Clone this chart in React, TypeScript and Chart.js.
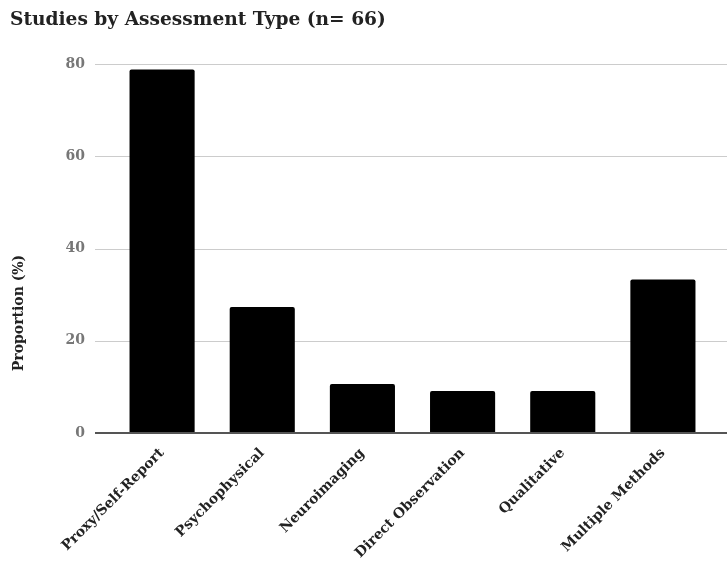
import React, { useEffect, useRef } from 'react';
import { Chart, registerables } from 'chart.js';

Chart.register(...registerables);

const categories = [
  'Proxy/Self-Report',
  'Psychophysical',
  'Neuroimaging',
  'Direct Observation',
  'Qualitative',
  'Multiple Methods',
];
const proportions = [78.8, 27.3, 10.6, 9.1, 9.1, 33.3];
const yTicks = [0, 20, 40, 60, 80];
const chartTitle = 'Studies by Assessment Type (n= 66)';
const yAxisTitle = 'Proportion (%)';

const FONT = '"DejaVu Serif", serif';

const decorPlugin = {
  id: 'decor',
  beforeDatasetsDraw(chart: any) {
    const { ctx, chartArea, scales } = chart;
    const y = scales.y;
    ctx.save();
    ctx.strokeStyle = '#cccccc';
    ctx.lineWidth = 1;
    yTicks.forEach((v) => {
      if (v === 0) return;
      const py = Math.round(y.getPixelForValue(v)) + 0.5;
      ctx.beginPath();
      ctx.moveTo(chartArea.left - 17, py);
      ctx.lineTo(chart.width, py);
      ctx.stroke();
    });
    ctx.restore();
  },
  afterDatasetsDraw(chart: any) {
    const { ctx, chartArea, scales } = chart;
    const y = scales.y;
    const py = Math.round(y.getPixelForValue(0));
    ctx.save();
    ctx.strokeStyle = '#555555';
    ctx.lineWidth = 2;
    ctx.beginPath();
    ctx.moveTo(chartArea.left - 17, py);
    ctx.lineTo(chart.width, py);
    ctx.stroke();
    ctx.restore();
  },
  afterDraw(chart: any) {
    const { ctx } = chart;
    ctx.save();
    ctx.fillStyle = '#222222';
    ctx.font = `bold 18.6px ${FONT}`;
    ctx.textAlign = 'left';
    ctx.textBaseline = 'middle';
    ctx.fillText(chartTitle, 10, 20);
    ctx.translate(19, 313);
    ctx.rotate(-Math.PI / 2);
    ctx.font = `bold 14px ${FONT}`;
    ctx.textAlign = 'center';
    ctx.fillText(yAxisTitle, 0, 0);
    ctx.restore();
  },
};

export default function App() {
  const canvasRef = useRef<HTMLCanvasElement | null>(null);

  useEffect(() => {
    if (!canvasRef.current) return;
    const chart = new Chart(canvasRef.current, {
      type: 'bar',
      data: {
        labels: categories,
        datasets: [
          {
            data: proportions,
            backgroundColor: '#000000',
            borderRadius: 2,
            borderSkipped: 'bottom',
            categoryPercentage: 1,
            barPercentage: 0.65,
          },
        ],
      },
      options: {
        animation: false,
        responsive: false,
        maintainAspectRatio: false,
        layout: { padding: { top: 64, right: 14, left: 0, bottom: 0 } },
        plugins: {
          legend: { display: false },
          title: { display: false },
          tooltip: { enabled: false },
        },
        scales: {
          x: {
            grid: { display: false },
            border: { display: false },
            ticks: {
              autoSkip: false,
              maxRotation: 45,
              minRotation: 45,
              padding: 4,
              color: '#222222',
              font: { family: FONT, size: 14, weight: 'bold' },
            },
            afterFit(scale: any) {
              scale.height = 129;
            },
          },
          y: {
            min: 0,
            max: 80,
            grid: { display: false, drawTicks: false },
            border: { display: false },
            ticks: {
              stepSize: 20,
              padding: 27,
              color: '#777777',
              font: { family: FONT, size: 14, weight: 'bold' },
            },
            afterFit(scale: any) {
              scale.width = 112;
            },
          },
        },
      },
      plugins: [decorPlugin],
    });
    return () => chart.destroy();
  }, []);

  return (
    <div style={{ position: 'fixed', left: 0, top: 0, width: 727, height: 562, background: '#fff' }}>
      <canvas ref={canvasRef} width={727} height={562} style={{ width: 727, height: 562 }} />
    </div>
  );
}
